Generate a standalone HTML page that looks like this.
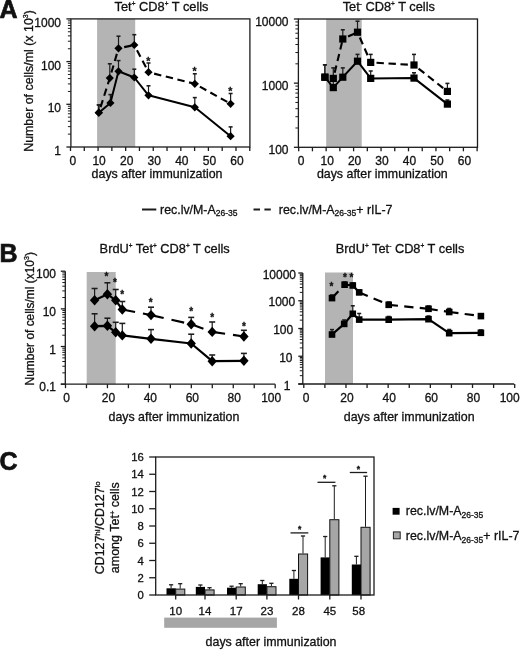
<!DOCTYPE html>
<html><head><meta charset="utf-8"><style>
html,body{margin:0;padding:0;background:#fff;}
svg{display:block;filter:blur(0.35px);}
text{font-family:"Liberation Sans", sans-serif;fill:#111;stroke:#111;stroke-width:0.3px;}
</style></head><body>
<svg width="520" height="650" viewBox="0 0 520 650">
<rect x="0" y="0" width="520" height="650" fill="#fff"/>
<text x="-0.60" y="18.00" font-size="25" text-anchor="start" font-weight="bold" style="stroke-width:0.7px">A</text>
<text x="-0.60" y="262.00" font-size="25" text-anchor="start" font-weight="bold" style="stroke-width:0.7px">B</text>
<text x="-0.60" y="470.00" font-size="25" text-anchor="start" font-weight="bold" style="stroke-width:0.7px">C</text>
<rect x="97.10" y="18.90" width="38.10" height="128.10" fill="#b4b4b4"/>
<rect x="70.9" y="18.9" width="179.0" height="128.1" fill="none" stroke="#1c1c1c" stroke-width="1.3"/>
<line x1="66.40" y1="147.00" x2="70.90" y2="147.00" stroke="#1c1c1c" stroke-width="1.3" stroke-linecap="butt"/>
<line x1="67.90" y1="134.15" x2="70.90" y2="134.15" stroke="#1c1c1c" stroke-width="1.0" stroke-linecap="butt"/>
<line x1="67.90" y1="126.63" x2="70.90" y2="126.63" stroke="#1c1c1c" stroke-width="1.0" stroke-linecap="butt"/>
<line x1="67.90" y1="121.29" x2="70.90" y2="121.29" stroke="#1c1c1c" stroke-width="1.0" stroke-linecap="butt"/>
<line x1="67.90" y1="117.15" x2="70.90" y2="117.15" stroke="#1c1c1c" stroke-width="1.0" stroke-linecap="butt"/>
<line x1="67.90" y1="113.77" x2="70.90" y2="113.77" stroke="#1c1c1c" stroke-width="1.0" stroke-linecap="butt"/>
<line x1="67.90" y1="110.91" x2="70.90" y2="110.91" stroke="#1c1c1c" stroke-width="1.0" stroke-linecap="butt"/>
<line x1="67.90" y1="108.44" x2="70.90" y2="108.44" stroke="#1c1c1c" stroke-width="1.0" stroke-linecap="butt"/>
<line x1="67.90" y1="106.25" x2="70.90" y2="106.25" stroke="#1c1c1c" stroke-width="1.0" stroke-linecap="butt"/>
<line x1="66.40" y1="104.30" x2="70.90" y2="104.30" stroke="#1c1c1c" stroke-width="1.3" stroke-linecap="butt"/>
<line x1="67.90" y1="91.45" x2="70.90" y2="91.45" stroke="#1c1c1c" stroke-width="1.0" stroke-linecap="butt"/>
<line x1="67.90" y1="83.93" x2="70.90" y2="83.93" stroke="#1c1c1c" stroke-width="1.0" stroke-linecap="butt"/>
<line x1="67.90" y1="78.59" x2="70.90" y2="78.59" stroke="#1c1c1c" stroke-width="1.0" stroke-linecap="butt"/>
<line x1="67.90" y1="74.45" x2="70.90" y2="74.45" stroke="#1c1c1c" stroke-width="1.0" stroke-linecap="butt"/>
<line x1="67.90" y1="71.07" x2="70.90" y2="71.07" stroke="#1c1c1c" stroke-width="1.0" stroke-linecap="butt"/>
<line x1="67.90" y1="68.21" x2="70.90" y2="68.21" stroke="#1c1c1c" stroke-width="1.0" stroke-linecap="butt"/>
<line x1="67.90" y1="65.74" x2="70.90" y2="65.74" stroke="#1c1c1c" stroke-width="1.0" stroke-linecap="butt"/>
<line x1="67.90" y1="63.55" x2="70.90" y2="63.55" stroke="#1c1c1c" stroke-width="1.0" stroke-linecap="butt"/>
<line x1="66.40" y1="61.60" x2="70.90" y2="61.60" stroke="#1c1c1c" stroke-width="1.3" stroke-linecap="butt"/>
<line x1="67.90" y1="48.75" x2="70.90" y2="48.75" stroke="#1c1c1c" stroke-width="1.0" stroke-linecap="butt"/>
<line x1="67.90" y1="41.23" x2="70.90" y2="41.23" stroke="#1c1c1c" stroke-width="1.0" stroke-linecap="butt"/>
<line x1="67.90" y1="35.89" x2="70.90" y2="35.89" stroke="#1c1c1c" stroke-width="1.0" stroke-linecap="butt"/>
<line x1="67.90" y1="31.75" x2="70.90" y2="31.75" stroke="#1c1c1c" stroke-width="1.0" stroke-linecap="butt"/>
<line x1="67.90" y1="28.37" x2="70.90" y2="28.37" stroke="#1c1c1c" stroke-width="1.0" stroke-linecap="butt"/>
<line x1="67.90" y1="25.51" x2="70.90" y2="25.51" stroke="#1c1c1c" stroke-width="1.0" stroke-linecap="butt"/>
<line x1="67.90" y1="23.04" x2="70.90" y2="23.04" stroke="#1c1c1c" stroke-width="1.0" stroke-linecap="butt"/>
<line x1="67.90" y1="20.85" x2="70.90" y2="20.85" stroke="#1c1c1c" stroke-width="1.0" stroke-linecap="butt"/>
<line x1="66.40" y1="18.90" x2="70.90" y2="18.90" stroke="#1c1c1c" stroke-width="1.3" stroke-linecap="butt"/>
<text x="61.00" y="155.00" font-size="12" text-anchor="end" font-weight="normal">1</text>
<text x="61.00" y="112.30" font-size="12" text-anchor="end" font-weight="normal">10</text>
<text x="61.00" y="69.60" font-size="12" text-anchor="end" font-weight="normal">100</text>
<text x="61.00" y="26.90" font-size="12" text-anchor="end" font-weight="normal">1000</text>
<line x1="70.50" y1="147.00" x2="70.50" y2="151.00" stroke="#1c1c1c" stroke-width="1.3" stroke-linecap="butt"/>
<line x1="84.29" y1="147.00" x2="84.29" y2="151.00" stroke="#1c1c1c" stroke-width="1.3" stroke-linecap="butt"/>
<line x1="98.08" y1="147.00" x2="98.08" y2="151.00" stroke="#1c1c1c" stroke-width="1.3" stroke-linecap="butt"/>
<line x1="111.87" y1="147.00" x2="111.87" y2="151.00" stroke="#1c1c1c" stroke-width="1.3" stroke-linecap="butt"/>
<line x1="125.66" y1="147.00" x2="125.66" y2="151.00" stroke="#1c1c1c" stroke-width="1.3" stroke-linecap="butt"/>
<line x1="139.45" y1="147.00" x2="139.45" y2="151.00" stroke="#1c1c1c" stroke-width="1.3" stroke-linecap="butt"/>
<line x1="153.24" y1="147.00" x2="153.24" y2="151.00" stroke="#1c1c1c" stroke-width="1.3" stroke-linecap="butt"/>
<line x1="167.03" y1="147.00" x2="167.03" y2="151.00" stroke="#1c1c1c" stroke-width="1.3" stroke-linecap="butt"/>
<line x1="180.82" y1="147.00" x2="180.82" y2="151.00" stroke="#1c1c1c" stroke-width="1.3" stroke-linecap="butt"/>
<line x1="194.61" y1="147.00" x2="194.61" y2="151.00" stroke="#1c1c1c" stroke-width="1.3" stroke-linecap="butt"/>
<line x1="208.40" y1="147.00" x2="208.40" y2="151.00" stroke="#1c1c1c" stroke-width="1.3" stroke-linecap="butt"/>
<line x1="222.19" y1="147.00" x2="222.19" y2="151.00" stroke="#1c1c1c" stroke-width="1.3" stroke-linecap="butt"/>
<line x1="235.98" y1="147.00" x2="235.98" y2="151.00" stroke="#1c1c1c" stroke-width="1.3" stroke-linecap="butt"/>
<line x1="249.77" y1="147.00" x2="249.77" y2="151.00" stroke="#1c1c1c" stroke-width="1.3" stroke-linecap="butt"/>
<text x="72.80" y="164.50" font-size="12" text-anchor="middle" font-weight="normal">0</text>
<text x="99.08" y="164.50" font-size="12" text-anchor="middle" font-weight="normal">10</text>
<text x="126.66" y="164.50" font-size="12" text-anchor="middle" font-weight="normal">20</text>
<text x="154.24" y="164.50" font-size="12" text-anchor="middle" font-weight="normal">30</text>
<text x="181.82" y="164.50" font-size="12" text-anchor="middle" font-weight="normal">40</text>
<text x="209.40" y="164.50" font-size="12" text-anchor="middle" font-weight="normal">50</text>
<text x="236.98" y="164.50" font-size="12" text-anchor="middle" font-weight="normal">60</text>
<text x="91.60" y="178.10" font-size="12.4" text-anchor="start" font-weight="normal">days after immunization</text>
<text x="114.60" y="10.70" font-size="12.8" text-anchor="start" font-weight="normal">Tet<tspan font-size="6.5" baseline-shift="5">+</tspan> CD8<tspan font-size="6.5" baseline-shift="5">+</tspan> T cells</text>
<text x="0" y="0" font-size="12.4" text-anchor="middle" transform="translate(32.90,81.00) rotate(-90)">Number of cells/ml (x 10<tspan font-size="7" baseline-shift="5.3">3</tspan>)</text>
<line x1="98.80" y1="112.70" x2="98.80" y2="104.90" stroke="#1c1c1c" stroke-width="1.2" stroke-linecap="butt"/>
<line x1="96.80" y1="104.90" x2="100.80" y2="104.90" stroke="#1c1c1c" stroke-width="1.56" stroke-linecap="butt"/>
<line x1="109.80" y1="78.10" x2="109.80" y2="63.80" stroke="#1c1c1c" stroke-width="1.2" stroke-linecap="butt"/>
<line x1="107.80" y1="63.80" x2="111.80" y2="63.80" stroke="#1c1c1c" stroke-width="1.56" stroke-linecap="butt"/>
<line x1="118.50" y1="48.30" x2="118.50" y2="36.20" stroke="#1c1c1c" stroke-width="1.2" stroke-linecap="butt"/>
<line x1="116.50" y1="36.20" x2="120.50" y2="36.20" stroke="#1c1c1c" stroke-width="1.56" stroke-linecap="butt"/>
<line x1="134.30" y1="45.00" x2="134.30" y2="34.70" stroke="#1c1c1c" stroke-width="1.2" stroke-linecap="butt"/>
<line x1="132.30" y1="34.70" x2="136.30" y2="34.70" stroke="#1c1c1c" stroke-width="1.56" stroke-linecap="butt"/>
<line x1="148.50" y1="72.20" x2="148.50" y2="63.00" stroke="#1c1c1c" stroke-width="1.2" stroke-linecap="butt"/>
<line x1="146.50" y1="63.00" x2="150.50" y2="63.00" stroke="#1c1c1c" stroke-width="1.56" stroke-linecap="butt"/>
<line x1="194.80" y1="83.80" x2="194.80" y2="73.80" stroke="#1c1c1c" stroke-width="1.2" stroke-linecap="butt"/>
<line x1="192.80" y1="73.80" x2="196.80" y2="73.80" stroke="#1c1c1c" stroke-width="1.56" stroke-linecap="butt"/>
<line x1="230.60" y1="103.80" x2="230.60" y2="93.50" stroke="#1c1c1c" stroke-width="1.2" stroke-linecap="butt"/>
<line x1="228.60" y1="93.50" x2="232.60" y2="93.50" stroke="#1c1c1c" stroke-width="1.56" stroke-linecap="butt"/>
<line x1="98.80" y1="112.70" x2="98.80" y2="104.90" stroke="#1c1c1c" stroke-width="1.2" stroke-linecap="butt"/>
<line x1="96.80" y1="104.90" x2="100.80" y2="104.90" stroke="#1c1c1c" stroke-width="1.56" stroke-linecap="butt"/>
<line x1="110.40" y1="102.90" x2="110.40" y2="94.60" stroke="#1c1c1c" stroke-width="1.2" stroke-linecap="butt"/>
<line x1="108.40" y1="94.60" x2="112.40" y2="94.60" stroke="#1c1c1c" stroke-width="1.56" stroke-linecap="butt"/>
<line x1="118.50" y1="71.30" x2="118.50" y2="60.60" stroke="#1c1c1c" stroke-width="1.2" stroke-linecap="butt"/>
<line x1="116.50" y1="60.60" x2="120.50" y2="60.60" stroke="#1c1c1c" stroke-width="1.56" stroke-linecap="butt"/>
<line x1="134.30" y1="77.50" x2="134.30" y2="69.20" stroke="#1c1c1c" stroke-width="1.2" stroke-linecap="butt"/>
<line x1="132.30" y1="69.20" x2="136.30" y2="69.20" stroke="#1c1c1c" stroke-width="1.56" stroke-linecap="butt"/>
<line x1="148.50" y1="95.30" x2="148.50" y2="85.80" stroke="#1c1c1c" stroke-width="1.2" stroke-linecap="butt"/>
<line x1="146.50" y1="85.80" x2="150.50" y2="85.80" stroke="#1c1c1c" stroke-width="1.56" stroke-linecap="butt"/>
<line x1="194.80" y1="107.30" x2="194.80" y2="97.60" stroke="#1c1c1c" stroke-width="1.2" stroke-linecap="butt"/>
<line x1="192.80" y1="97.60" x2="196.80" y2="97.60" stroke="#1c1c1c" stroke-width="1.56" stroke-linecap="butt"/>
<line x1="230.60" y1="136.20" x2="230.60" y2="126.90" stroke="#1c1c1c" stroke-width="1.2" stroke-linecap="butt"/>
<line x1="228.60" y1="126.90" x2="232.60" y2="126.90" stroke="#1c1c1c" stroke-width="1.56" stroke-linecap="butt"/>
<line x1="98.80" y1="112.70" x2="109.80" y2="78.10" stroke="#000" stroke-width="2.1" stroke-dasharray="7.4,4.6" stroke-dashoffset="6.20"/>
<line x1="109.80" y1="78.10" x2="118.50" y2="48.30" stroke="#000" stroke-width="2.1" stroke-dasharray="7.4,4.6" stroke-dashoffset="6.20"/>
<line x1="118.50" y1="48.30" x2="134.30" y2="45.00" stroke="#000" stroke-width="2.1" stroke-dasharray="7.4,4.6" stroke-dashoffset="6.20"/>
<line x1="134.30" y1="45.00" x2="148.50" y2="72.20" stroke="#000" stroke-width="2.1" stroke-dasharray="7.4,4.6" stroke-dashoffset="6.20"/>
<line x1="148.50" y1="72.20" x2="194.80" y2="83.80" stroke="#000" stroke-width="2.1" stroke-dasharray="7.4,4.6" stroke-dashoffset="6.20"/>
<line x1="194.80" y1="83.80" x2="230.60" y2="103.80" stroke="#000" stroke-width="2.1" stroke-dasharray="7.4,4.6" stroke-dashoffset="6.20"/>
<polyline points="98.80,112.70 110.40,102.90 118.50,71.30 134.30,77.50 148.50,95.30 194.80,107.30 230.60,136.20" fill="none" stroke="#000" stroke-width="2" stroke-linejoin="round"/>
<path d="M94.70 112.70L98.80 108.60L102.90 112.70L98.80 116.80Z" fill="#000"/>
<path d="M105.70 78.10L109.80 74.00L113.90 78.10L109.80 82.20Z" fill="#000"/>
<path d="M114.40 48.30L118.50 44.20L122.60 48.30L118.50 52.40Z" fill="#000"/>
<path d="M130.20 45.00L134.30 40.90L138.40 45.00L134.30 49.10Z" fill="#000"/>
<path d="M144.40 72.20L148.50 68.10L152.60 72.20L148.50 76.30Z" fill="#000"/>
<path d="M190.70 83.80L194.80 79.70L198.90 83.80L194.80 87.90Z" fill="#000"/>
<path d="M226.50 103.80L230.60 99.70L234.70 103.80L230.60 107.90Z" fill="#000"/>
<path d="M94.70 112.70L98.80 108.60L102.90 112.70L98.80 116.80Z" fill="#000"/>
<path d="M106.30 102.90L110.40 98.80L114.50 102.90L110.40 107.00Z" fill="#000"/>
<path d="M114.40 71.30L118.50 67.20L122.60 71.30L118.50 75.40Z" fill="#000"/>
<path d="M130.20 77.50L134.30 73.40L138.40 77.50L134.30 81.60Z" fill="#000"/>
<path d="M144.40 95.30L148.50 91.20L152.60 95.30L148.50 99.40Z" fill="#000"/>
<path d="M190.70 107.30L194.80 103.20L198.90 107.30L194.80 111.40Z" fill="#000"/>
<path d="M226.50 136.20L230.60 132.10L234.70 136.20L230.60 140.30Z" fill="#000"/>
<text x="148.20" y="64.66" font-size="10.5" text-anchor="middle" font-weight="bold">*</text>
<text x="194.60" y="75.06" font-size="10.5" text-anchor="middle" font-weight="bold">*</text>
<text x="230.40" y="95.36" font-size="10.5" text-anchor="middle" font-weight="bold">*</text>
<rect x="326.20" y="19.00" width="35.50" height="128.30" fill="#b4b4b4"/>
<rect x="298.4" y="19.0" width="179.10000000000002" height="128.3" fill="none" stroke="#1c1c1c" stroke-width="1.3"/>
<line x1="293.90" y1="147.30" x2="298.40" y2="147.30" stroke="#1c1c1c" stroke-width="1.3" stroke-linecap="butt"/>
<line x1="295.40" y1="127.99" x2="298.40" y2="127.99" stroke="#1c1c1c" stroke-width="1.0" stroke-linecap="butt"/>
<line x1="295.40" y1="116.69" x2="298.40" y2="116.69" stroke="#1c1c1c" stroke-width="1.0" stroke-linecap="butt"/>
<line x1="295.40" y1="108.68" x2="298.40" y2="108.68" stroke="#1c1c1c" stroke-width="1.0" stroke-linecap="butt"/>
<line x1="295.40" y1="102.46" x2="298.40" y2="102.46" stroke="#1c1c1c" stroke-width="1.0" stroke-linecap="butt"/>
<line x1="295.40" y1="97.38" x2="298.40" y2="97.38" stroke="#1c1c1c" stroke-width="1.0" stroke-linecap="butt"/>
<line x1="295.40" y1="93.09" x2="298.40" y2="93.09" stroke="#1c1c1c" stroke-width="1.0" stroke-linecap="butt"/>
<line x1="295.40" y1="89.37" x2="298.40" y2="89.37" stroke="#1c1c1c" stroke-width="1.0" stroke-linecap="butt"/>
<line x1="295.40" y1="86.09" x2="298.40" y2="86.09" stroke="#1c1c1c" stroke-width="1.0" stroke-linecap="butt"/>
<line x1="293.90" y1="83.15" x2="298.40" y2="83.15" stroke="#1c1c1c" stroke-width="1.3" stroke-linecap="butt"/>
<line x1="295.40" y1="63.84" x2="298.40" y2="63.84" stroke="#1c1c1c" stroke-width="1.0" stroke-linecap="butt"/>
<line x1="295.40" y1="52.54" x2="298.40" y2="52.54" stroke="#1c1c1c" stroke-width="1.0" stroke-linecap="butt"/>
<line x1="295.40" y1="44.53" x2="298.40" y2="44.53" stroke="#1c1c1c" stroke-width="1.0" stroke-linecap="butt"/>
<line x1="295.40" y1="38.31" x2="298.40" y2="38.31" stroke="#1c1c1c" stroke-width="1.0" stroke-linecap="butt"/>
<line x1="295.40" y1="33.23" x2="298.40" y2="33.23" stroke="#1c1c1c" stroke-width="1.0" stroke-linecap="butt"/>
<line x1="295.40" y1="28.94" x2="298.40" y2="28.94" stroke="#1c1c1c" stroke-width="1.0" stroke-linecap="butt"/>
<line x1="295.40" y1="25.22" x2="298.40" y2="25.22" stroke="#1c1c1c" stroke-width="1.0" stroke-linecap="butt"/>
<line x1="295.40" y1="21.94" x2="298.40" y2="21.94" stroke="#1c1c1c" stroke-width="1.0" stroke-linecap="butt"/>
<line x1="293.90" y1="19.00" x2="298.40" y2="19.00" stroke="#1c1c1c" stroke-width="1.3" stroke-linecap="butt"/>
<text x="288.50" y="153.80" font-size="12" text-anchor="end" font-weight="normal">100</text>
<text x="288.50" y="89.65" font-size="12" text-anchor="end" font-weight="normal">1000</text>
<text x="288.50" y="25.50" font-size="12" text-anchor="end" font-weight="normal">10000</text>
<line x1="298.70" y1="147.30" x2="298.70" y2="151.30" stroke="#1c1c1c" stroke-width="1.3" stroke-linecap="butt"/>
<line x1="312.43" y1="147.30" x2="312.43" y2="151.30" stroke="#1c1c1c" stroke-width="1.3" stroke-linecap="butt"/>
<line x1="326.15" y1="147.30" x2="326.15" y2="151.30" stroke="#1c1c1c" stroke-width="1.3" stroke-linecap="butt"/>
<line x1="339.88" y1="147.30" x2="339.88" y2="151.30" stroke="#1c1c1c" stroke-width="1.3" stroke-linecap="butt"/>
<line x1="353.60" y1="147.30" x2="353.60" y2="151.30" stroke="#1c1c1c" stroke-width="1.3" stroke-linecap="butt"/>
<line x1="367.32" y1="147.30" x2="367.32" y2="151.30" stroke="#1c1c1c" stroke-width="1.3" stroke-linecap="butt"/>
<line x1="381.05" y1="147.30" x2="381.05" y2="151.30" stroke="#1c1c1c" stroke-width="1.3" stroke-linecap="butt"/>
<line x1="394.77" y1="147.30" x2="394.77" y2="151.30" stroke="#1c1c1c" stroke-width="1.3" stroke-linecap="butt"/>
<line x1="408.50" y1="147.30" x2="408.50" y2="151.30" stroke="#1c1c1c" stroke-width="1.3" stroke-linecap="butt"/>
<line x1="422.23" y1="147.30" x2="422.23" y2="151.30" stroke="#1c1c1c" stroke-width="1.3" stroke-linecap="butt"/>
<line x1="435.95" y1="147.30" x2="435.95" y2="151.30" stroke="#1c1c1c" stroke-width="1.3" stroke-linecap="butt"/>
<line x1="449.67" y1="147.30" x2="449.67" y2="151.30" stroke="#1c1c1c" stroke-width="1.3" stroke-linecap="butt"/>
<line x1="463.40" y1="147.30" x2="463.40" y2="151.30" stroke="#1c1c1c" stroke-width="1.3" stroke-linecap="butt"/>
<line x1="477.12" y1="147.30" x2="477.12" y2="151.30" stroke="#1c1c1c" stroke-width="1.3" stroke-linecap="butt"/>
<text x="301.00" y="164.50" font-size="12" text-anchor="middle" font-weight="normal">0</text>
<text x="327.15" y="164.50" font-size="12" text-anchor="middle" font-weight="normal">10</text>
<text x="354.60" y="164.50" font-size="12" text-anchor="middle" font-weight="normal">20</text>
<text x="382.05" y="164.50" font-size="12" text-anchor="middle" font-weight="normal">30</text>
<text x="409.50" y="164.50" font-size="12" text-anchor="middle" font-weight="normal">40</text>
<text x="436.95" y="164.50" font-size="12" text-anchor="middle" font-weight="normal">50</text>
<text x="464.40" y="164.50" font-size="12" text-anchor="middle" font-weight="normal">60</text>
<text x="316.90" y="178.10" font-size="12.4" text-anchor="start" font-weight="normal">days after immunization</text>
<text x="342.70" y="10.70" font-size="12.8" text-anchor="start" font-weight="normal">Tet<tspan font-size="6.5" baseline-shift="5">-</tspan> CD8<tspan font-size="6.5" baseline-shift="5">+</tspan> T cells</text>
<line x1="324.90" y1="77.20" x2="324.90" y2="64.80" stroke="#1c1c1c" stroke-width="1.2" stroke-linecap="butt"/>
<line x1="322.90" y1="64.80" x2="326.90" y2="64.80" stroke="#1c1c1c" stroke-width="1.56" stroke-linecap="butt"/>
<line x1="333.30" y1="78.40" x2="333.30" y2="67.90" stroke="#1c1c1c" stroke-width="1.2" stroke-linecap="butt"/>
<line x1="331.30" y1="67.90" x2="335.30" y2="67.90" stroke="#1c1c1c" stroke-width="1.56" stroke-linecap="butt"/>
<line x1="342.80" y1="39.00" x2="342.80" y2="29.80" stroke="#1c1c1c" stroke-width="1.2" stroke-linecap="butt"/>
<line x1="340.80" y1="29.80" x2="344.80" y2="29.80" stroke="#1c1c1c" stroke-width="1.56" stroke-linecap="butt"/>
<line x1="357.50" y1="32.20" x2="357.50" y2="21.20" stroke="#1c1c1c" stroke-width="1.2" stroke-linecap="butt"/>
<line x1="355.50" y1="21.20" x2="359.50" y2="21.20" stroke="#1c1c1c" stroke-width="1.56" stroke-linecap="butt"/>
<line x1="370.70" y1="62.40" x2="370.70" y2="54.40" stroke="#1c1c1c" stroke-width="1.2" stroke-linecap="butt"/>
<line x1="368.70" y1="54.40" x2="372.70" y2="54.40" stroke="#1c1c1c" stroke-width="1.56" stroke-linecap="butt"/>
<line x1="414.00" y1="65.00" x2="414.00" y2="54.40" stroke="#1c1c1c" stroke-width="1.2" stroke-linecap="butt"/>
<line x1="412.00" y1="54.40" x2="416.00" y2="54.40" stroke="#1c1c1c" stroke-width="1.56" stroke-linecap="butt"/>
<line x1="447.40" y1="91.40" x2="447.40" y2="83.40" stroke="#1c1c1c" stroke-width="1.2" stroke-linecap="butt"/>
<line x1="445.40" y1="83.40" x2="449.40" y2="83.40" stroke="#1c1c1c" stroke-width="1.56" stroke-linecap="butt"/>
<line x1="324.90" y1="77.20" x2="324.90" y2="64.80" stroke="#1c1c1c" stroke-width="1.2" stroke-linecap="butt"/>
<line x1="322.90" y1="64.80" x2="326.90" y2="64.80" stroke="#1c1c1c" stroke-width="1.56" stroke-linecap="butt"/>
<line x1="333.30" y1="87.60" x2="333.30" y2="80.00" stroke="#1c1c1c" stroke-width="1.2" stroke-linecap="butt"/>
<line x1="331.30" y1="80.00" x2="335.30" y2="80.00" stroke="#1c1c1c" stroke-width="1.56" stroke-linecap="butt"/>
<line x1="342.80" y1="77.20" x2="342.80" y2="67.90" stroke="#1c1c1c" stroke-width="1.2" stroke-linecap="butt"/>
<line x1="340.80" y1="67.90" x2="344.80" y2="67.90" stroke="#1c1c1c" stroke-width="1.56" stroke-linecap="butt"/>
<line x1="357.50" y1="61.20" x2="357.50" y2="54.40" stroke="#1c1c1c" stroke-width="1.2" stroke-linecap="butt"/>
<line x1="355.50" y1="54.40" x2="359.50" y2="54.40" stroke="#1c1c1c" stroke-width="1.56" stroke-linecap="butt"/>
<line x1="370.70" y1="78.40" x2="370.70" y2="71.00" stroke="#1c1c1c" stroke-width="1.2" stroke-linecap="butt"/>
<line x1="368.70" y1="71.00" x2="372.70" y2="71.00" stroke="#1c1c1c" stroke-width="1.56" stroke-linecap="butt"/>
<line x1="414.00" y1="78.10" x2="414.00" y2="72.80" stroke="#1c1c1c" stroke-width="1.2" stroke-linecap="butt"/>
<line x1="412.00" y1="72.80" x2="416.00" y2="72.80" stroke="#1c1c1c" stroke-width="1.56" stroke-linecap="butt"/>
<line x1="447.40" y1="104.10" x2="447.40" y2="100.00" stroke="#1c1c1c" stroke-width="1.2" stroke-linecap="butt"/>
<line x1="445.40" y1="100.00" x2="449.40" y2="100.00" stroke="#1c1c1c" stroke-width="1.56" stroke-linecap="butt"/>
<line x1="324.90" y1="77.20" x2="333.30" y2="78.40" stroke="#000" stroke-width="2.1" stroke-dasharray="7.4,4.6" stroke-dashoffset="6.20"/>
<line x1="333.30" y1="78.40" x2="342.80" y2="39.00" stroke="#000" stroke-width="2.1" stroke-dasharray="7.4,4.6" stroke-dashoffset="6.20"/>
<line x1="342.80" y1="39.00" x2="357.50" y2="32.20" stroke="#000" stroke-width="2.1" stroke-dasharray="7.4,4.6" stroke-dashoffset="6.20"/>
<line x1="357.50" y1="32.20" x2="370.70" y2="62.40" stroke="#000" stroke-width="2.1" stroke-dasharray="7.4,4.6" stroke-dashoffset="6.20"/>
<line x1="370.70" y1="62.40" x2="414.00" y2="65.00" stroke="#000" stroke-width="2.1" stroke-dasharray="7.4,4.6" stroke-dashoffset="6.20"/>
<line x1="414.00" y1="65.00" x2="447.40" y2="91.40" stroke="#000" stroke-width="2.1" stroke-dasharray="7.4,4.6" stroke-dashoffset="6.20"/>
<polyline points="324.90,77.20 333.30,87.60 342.80,77.20 357.50,61.20 370.70,78.40 414.00,78.10 447.40,104.10" fill="none" stroke="#000" stroke-width="2" stroke-linejoin="round"/>
<rect x="321.30" y="73.60" width="7.20" height="7.20" fill="#000"/>
<rect x="329.70" y="74.80" width="7.20" height="7.20" fill="#000"/>
<rect x="339.20" y="35.40" width="7.20" height="7.20" fill="#000"/>
<rect x="353.90" y="28.60" width="7.20" height="7.20" fill="#000"/>
<rect x="367.10" y="58.80" width="7.20" height="7.20" fill="#000"/>
<rect x="410.40" y="61.40" width="7.20" height="7.20" fill="#000"/>
<rect x="443.80" y="87.80" width="7.20" height="7.20" fill="#000"/>
<rect x="321.30" y="73.60" width="7.20" height="7.20" fill="#000"/>
<rect x="329.70" y="84.00" width="7.20" height="7.20" fill="#000"/>
<rect x="339.20" y="73.60" width="7.20" height="7.20" fill="#000"/>
<rect x="353.90" y="57.60" width="7.20" height="7.20" fill="#000"/>
<rect x="367.10" y="74.80" width="7.20" height="7.20" fill="#000"/>
<rect x="410.40" y="74.50" width="7.20" height="7.20" fill="#000"/>
<rect x="443.80" y="100.50" width="7.20" height="7.20" fill="#000"/>
<line x1="142.00" y1="209.50" x2="156.30" y2="209.50" stroke="#1c1c1c" stroke-width="2" stroke-linecap="butt"/>
<text x="160.00" y="214.10" font-size="12.4" text-anchor="start" font-weight="normal">rec.lv/M-A<tspan font-size="8.5" baseline-shift="-2.4">26-35</tspan></text>
<line x1="253.50" y1="209.50" x2="260.00" y2="209.50" stroke="#1c1c1c" stroke-width="2" stroke-linecap="butt"/>
<line x1="264.40" y1="209.50" x2="270.80" y2="209.50" stroke="#1c1c1c" stroke-width="2" stroke-linecap="butt"/>
<text x="278.80" y="214.10" font-size="12.4" text-anchor="start" font-weight="normal">rec.lv/M-A<tspan font-size="8.5" baseline-shift="-2.4">26-35</tspan>+ rIL-7</text>
<rect x="86.70" y="272.00" width="29.00" height="112.20" fill="#b4b4b4"/>
<line x1="65.30" y1="271.20" x2="65.30" y2="384.20" stroke="#1c1c1c" stroke-width="1.3" stroke-linecap="butt"/>
<line x1="60.80" y1="384.20" x2="275.20" y2="384.20" stroke="#1c1c1c" stroke-width="1.3" stroke-linecap="butt"/>
<line x1="60.80" y1="384.20" x2="65.30" y2="384.20" stroke="#1c1c1c" stroke-width="1.3" stroke-linecap="butt"/>
<line x1="62.30" y1="372.86" x2="65.30" y2="372.86" stroke="#1c1c1c" stroke-width="1.0" stroke-linecap="butt"/>
<line x1="62.30" y1="366.23" x2="65.30" y2="366.23" stroke="#1c1c1c" stroke-width="1.0" stroke-linecap="butt"/>
<line x1="62.30" y1="361.52" x2="65.30" y2="361.52" stroke="#1c1c1c" stroke-width="1.0" stroke-linecap="butt"/>
<line x1="62.30" y1="357.87" x2="65.30" y2="357.87" stroke="#1c1c1c" stroke-width="1.0" stroke-linecap="butt"/>
<line x1="62.30" y1="354.89" x2="65.30" y2="354.89" stroke="#1c1c1c" stroke-width="1.0" stroke-linecap="butt"/>
<line x1="62.30" y1="352.37" x2="65.30" y2="352.37" stroke="#1c1c1c" stroke-width="1.0" stroke-linecap="butt"/>
<line x1="62.30" y1="350.18" x2="65.30" y2="350.18" stroke="#1c1c1c" stroke-width="1.0" stroke-linecap="butt"/>
<line x1="62.30" y1="348.26" x2="65.30" y2="348.26" stroke="#1c1c1c" stroke-width="1.0" stroke-linecap="butt"/>
<line x1="60.80" y1="346.53" x2="65.30" y2="346.53" stroke="#1c1c1c" stroke-width="1.3" stroke-linecap="butt"/>
<line x1="62.30" y1="335.19" x2="65.30" y2="335.19" stroke="#1c1c1c" stroke-width="1.0" stroke-linecap="butt"/>
<line x1="62.30" y1="328.56" x2="65.30" y2="328.56" stroke="#1c1c1c" stroke-width="1.0" stroke-linecap="butt"/>
<line x1="62.30" y1="323.86" x2="65.30" y2="323.86" stroke="#1c1c1c" stroke-width="1.0" stroke-linecap="butt"/>
<line x1="62.30" y1="320.21" x2="65.30" y2="320.21" stroke="#1c1c1c" stroke-width="1.0" stroke-linecap="butt"/>
<line x1="62.30" y1="317.22" x2="65.30" y2="317.22" stroke="#1c1c1c" stroke-width="1.0" stroke-linecap="butt"/>
<line x1="62.30" y1="314.70" x2="65.30" y2="314.70" stroke="#1c1c1c" stroke-width="1.0" stroke-linecap="butt"/>
<line x1="62.30" y1="312.52" x2="65.30" y2="312.52" stroke="#1c1c1c" stroke-width="1.0" stroke-linecap="butt"/>
<line x1="62.30" y1="310.59" x2="65.30" y2="310.59" stroke="#1c1c1c" stroke-width="1.0" stroke-linecap="butt"/>
<line x1="60.80" y1="308.87" x2="65.30" y2="308.87" stroke="#1c1c1c" stroke-width="1.3" stroke-linecap="butt"/>
<line x1="62.30" y1="297.53" x2="65.30" y2="297.53" stroke="#1c1c1c" stroke-width="1.0" stroke-linecap="butt"/>
<line x1="62.30" y1="290.90" x2="65.30" y2="290.90" stroke="#1c1c1c" stroke-width="1.0" stroke-linecap="butt"/>
<line x1="62.30" y1="286.19" x2="65.30" y2="286.19" stroke="#1c1c1c" stroke-width="1.0" stroke-linecap="butt"/>
<line x1="62.30" y1="282.54" x2="65.30" y2="282.54" stroke="#1c1c1c" stroke-width="1.0" stroke-linecap="butt"/>
<line x1="62.30" y1="279.56" x2="65.30" y2="279.56" stroke="#1c1c1c" stroke-width="1.0" stroke-linecap="butt"/>
<line x1="62.30" y1="277.03" x2="65.30" y2="277.03" stroke="#1c1c1c" stroke-width="1.0" stroke-linecap="butt"/>
<line x1="62.30" y1="274.85" x2="65.30" y2="274.85" stroke="#1c1c1c" stroke-width="1.0" stroke-linecap="butt"/>
<line x1="62.30" y1="272.92" x2="65.30" y2="272.92" stroke="#1c1c1c" stroke-width="1.0" stroke-linecap="butt"/>
<line x1="60.80" y1="271.20" x2="65.30" y2="271.20" stroke="#1c1c1c" stroke-width="1.3" stroke-linecap="butt"/>
<text x="56.00" y="391.20" font-size="12" text-anchor="end" font-weight="normal">0.1</text>
<text x="56.00" y="353.53" font-size="12" text-anchor="end" font-weight="normal">1</text>
<text x="56.00" y="315.87" font-size="12" text-anchor="end" font-weight="normal">10</text>
<text x="56.00" y="278.20" font-size="12" text-anchor="end" font-weight="normal">100</text>
<line x1="65.50" y1="384.20" x2="65.50" y2="388.20" stroke="#1c1c1c" stroke-width="1.3" stroke-linecap="butt"/>
<line x1="86.47" y1="384.20" x2="86.47" y2="388.20" stroke="#1c1c1c" stroke-width="1.3" stroke-linecap="butt"/>
<line x1="107.44" y1="384.20" x2="107.44" y2="388.20" stroke="#1c1c1c" stroke-width="1.3" stroke-linecap="butt"/>
<line x1="128.41" y1="384.20" x2="128.41" y2="388.20" stroke="#1c1c1c" stroke-width="1.3" stroke-linecap="butt"/>
<line x1="149.38" y1="384.20" x2="149.38" y2="388.20" stroke="#1c1c1c" stroke-width="1.3" stroke-linecap="butt"/>
<line x1="170.35" y1="384.20" x2="170.35" y2="388.20" stroke="#1c1c1c" stroke-width="1.3" stroke-linecap="butt"/>
<line x1="191.32" y1="384.20" x2="191.32" y2="388.20" stroke="#1c1c1c" stroke-width="1.3" stroke-linecap="butt"/>
<line x1="212.29" y1="384.20" x2="212.29" y2="388.20" stroke="#1c1c1c" stroke-width="1.3" stroke-linecap="butt"/>
<line x1="233.26" y1="384.20" x2="233.26" y2="388.20" stroke="#1c1c1c" stroke-width="1.3" stroke-linecap="butt"/>
<line x1="254.23" y1="384.20" x2="254.23" y2="388.20" stroke="#1c1c1c" stroke-width="1.3" stroke-linecap="butt"/>
<line x1="275.20" y1="384.20" x2="275.20" y2="388.20" stroke="#1c1c1c" stroke-width="1.3" stroke-linecap="butt"/>
<text x="66.50" y="401.50" font-size="12" text-anchor="middle" font-weight="normal">0</text>
<text x="108.44" y="401.50" font-size="12" text-anchor="middle" font-weight="normal">20</text>
<text x="150.38" y="401.50" font-size="12" text-anchor="middle" font-weight="normal">40</text>
<text x="192.32" y="401.50" font-size="12" text-anchor="middle" font-weight="normal">60</text>
<text x="234.26" y="401.50" font-size="12" text-anchor="middle" font-weight="normal">80</text>
<text x="271.20" y="401.50" font-size="12" text-anchor="middle" font-weight="normal">100</text>
<text x="108.50" y="421.00" font-size="12.4" text-anchor="start" font-weight="normal">days after immunization</text>
<text x="99.60" y="253.40" font-size="12.8" text-anchor="start" font-weight="normal">BrdU<tspan font-size="6.5" baseline-shift="5">+</tspan> Tet<tspan font-size="6.5" baseline-shift="5">+</tspan> CD8<tspan font-size="6.5" baseline-shift="5">+</tspan> T cells</text>
<text x="0" y="0" font-size="11.95" text-anchor="middle" transform="translate(33.70,318.75) rotate(-90)">Number of cells/ml (x10<tspan font-size="7" baseline-shift="5.3">3</tspan>)</text>
<line x1="94.60" y1="300.30" x2="94.60" y2="288.50" stroke="#1c1c1c" stroke-width="1.2" stroke-linecap="butt"/>
<line x1="91.60" y1="288.50" x2="97.60" y2="288.50" stroke="#1c1c1c" stroke-width="1.56" stroke-linecap="butt"/>
<line x1="107.40" y1="294.20" x2="107.40" y2="282.80" stroke="#1c1c1c" stroke-width="1.2" stroke-linecap="butt"/>
<line x1="104.40" y1="282.80" x2="110.40" y2="282.80" stroke="#1c1c1c" stroke-width="1.56" stroke-linecap="butt"/>
<line x1="115.70" y1="300.30" x2="115.70" y2="289.50" stroke="#1c1c1c" stroke-width="1.2" stroke-linecap="butt"/>
<line x1="112.70" y1="289.50" x2="118.70" y2="289.50" stroke="#1c1c1c" stroke-width="1.56" stroke-linecap="butt"/>
<line x1="122.30" y1="309.50" x2="122.30" y2="301.50" stroke="#1c1c1c" stroke-width="1.2" stroke-linecap="butt"/>
<line x1="119.30" y1="301.50" x2="125.30" y2="301.50" stroke="#1c1c1c" stroke-width="1.56" stroke-linecap="butt"/>
<line x1="151.00" y1="315.10" x2="151.00" y2="307.20" stroke="#1c1c1c" stroke-width="1.2" stroke-linecap="butt"/>
<line x1="148.00" y1="307.20" x2="154.00" y2="307.20" stroke="#1c1c1c" stroke-width="1.56" stroke-linecap="butt"/>
<line x1="191.20" y1="324.30" x2="191.20" y2="317.40" stroke="#1c1c1c" stroke-width="1.2" stroke-linecap="butt"/>
<line x1="188.20" y1="317.40" x2="194.20" y2="317.40" stroke="#1c1c1c" stroke-width="1.56" stroke-linecap="butt"/>
<line x1="212.20" y1="331.90" x2="212.20" y2="322.00" stroke="#1c1c1c" stroke-width="1.2" stroke-linecap="butt"/>
<line x1="209.20" y1="322.00" x2="215.20" y2="322.00" stroke="#1c1c1c" stroke-width="1.56" stroke-linecap="butt"/>
<line x1="243.90" y1="336.50" x2="243.90" y2="330.30" stroke="#1c1c1c" stroke-width="1.2" stroke-linecap="butt"/>
<line x1="240.90" y1="330.30" x2="246.90" y2="330.30" stroke="#1c1c1c" stroke-width="1.56" stroke-linecap="butt"/>
<line x1="94.60" y1="326.20" x2="94.60" y2="313.80" stroke="#1c1c1c" stroke-width="1.2" stroke-linecap="butt"/>
<line x1="91.60" y1="313.80" x2="97.60" y2="313.80" stroke="#1c1c1c" stroke-width="1.56" stroke-linecap="butt"/>
<line x1="107.40" y1="325.80" x2="107.40" y2="318.20" stroke="#1c1c1c" stroke-width="1.2" stroke-linecap="butt"/>
<line x1="104.40" y1="318.20" x2="110.40" y2="318.20" stroke="#1c1c1c" stroke-width="1.56" stroke-linecap="butt"/>
<line x1="115.70" y1="332.30" x2="115.70" y2="322.30" stroke="#1c1c1c" stroke-width="1.2" stroke-linecap="butt"/>
<line x1="112.70" y1="322.30" x2="118.70" y2="322.30" stroke="#1c1c1c" stroke-width="1.56" stroke-linecap="butt"/>
<line x1="122.30" y1="335.40" x2="122.30" y2="323.40" stroke="#1c1c1c" stroke-width="1.2" stroke-linecap="butt"/>
<line x1="119.30" y1="323.40" x2="125.30" y2="323.40" stroke="#1c1c1c" stroke-width="1.56" stroke-linecap="butt"/>
<line x1="151.00" y1="338.80" x2="151.00" y2="329.60" stroke="#1c1c1c" stroke-width="1.2" stroke-linecap="butt"/>
<line x1="148.00" y1="329.60" x2="154.00" y2="329.60" stroke="#1c1c1c" stroke-width="1.56" stroke-linecap="butt"/>
<line x1="191.20" y1="343.50" x2="191.20" y2="334.20" stroke="#1c1c1c" stroke-width="1.2" stroke-linecap="butt"/>
<line x1="188.20" y1="334.20" x2="194.20" y2="334.20" stroke="#1c1c1c" stroke-width="1.56" stroke-linecap="butt"/>
<line x1="212.20" y1="361.20" x2="212.20" y2="355.00" stroke="#1c1c1c" stroke-width="1.2" stroke-linecap="butt"/>
<line x1="209.20" y1="355.00" x2="215.20" y2="355.00" stroke="#1c1c1c" stroke-width="1.56" stroke-linecap="butt"/>
<line x1="243.90" y1="360.80" x2="243.90" y2="353.40" stroke="#1c1c1c" stroke-width="1.2" stroke-linecap="butt"/>
<line x1="240.90" y1="353.40" x2="246.90" y2="353.40" stroke="#1c1c1c" stroke-width="1.56" stroke-linecap="butt"/>
<line x1="94.60" y1="300.30" x2="107.40" y2="294.20" stroke="#000" stroke-width="2.2" stroke-dasharray="13,8" stroke-dashoffset="0.00"/>
<line x1="107.40" y1="294.20" x2="115.70" y2="300.30" stroke="#000" stroke-width="2.2" stroke-dasharray="13,8" stroke-dashoffset="0.00"/>
<line x1="115.70" y1="300.30" x2="122.30" y2="309.50" stroke="#000" stroke-width="2.2" stroke-dasharray="13,8" stroke-dashoffset="0.00"/>
<line x1="122.30" y1="309.50" x2="151.00" y2="315.10" stroke="#000" stroke-width="2.2" stroke-dasharray="13,8" stroke-dashoffset="0.00"/>
<line x1="151.00" y1="315.10" x2="191.20" y2="324.30" stroke="#000" stroke-width="2.2" stroke-dasharray="13,8" stroke-dashoffset="0.00"/>
<line x1="191.20" y1="324.30" x2="212.20" y2="331.90" stroke="#000" stroke-width="2.2" stroke-dasharray="13,8" stroke-dashoffset="0.00"/>
<line x1="212.20" y1="331.90" x2="243.90" y2="336.50" stroke="#000" stroke-width="2.2" stroke-dasharray="13,8" stroke-dashoffset="0.00"/>
<polyline points="94.60,326.20 107.40,325.80 115.70,332.30 122.30,335.40 151.00,338.80 191.20,343.50 212.20,361.20 243.90,360.80" fill="none" stroke="#000" stroke-width="2.2" stroke-linejoin="round"/>
<path d="M89.90 300.30L94.60 295.10L99.30 300.30L94.60 305.50Z" fill="#000"/>
<path d="M102.70 294.20L107.40 289.00L112.10 294.20L107.40 299.40Z" fill="#000"/>
<path d="M111.00 300.30L115.70 295.10L120.40 300.30L115.70 305.50Z" fill="#000"/>
<path d="M117.60 309.50L122.30 304.30L127.00 309.50L122.30 314.70Z" fill="#000"/>
<path d="M146.30 315.10L151.00 309.90L155.70 315.10L151.00 320.30Z" fill="#000"/>
<path d="M186.50 324.30L191.20 319.10L195.90 324.30L191.20 329.50Z" fill="#000"/>
<path d="M207.50 331.90L212.20 326.70L216.90 331.90L212.20 337.10Z" fill="#000"/>
<path d="M239.20 336.50L243.90 331.30L248.60 336.50L243.90 341.70Z" fill="#000"/>
<path d="M89.90 326.20L94.60 321.00L99.30 326.20L94.60 331.40Z" fill="#000"/>
<path d="M102.70 325.80L107.40 320.60L112.10 325.80L107.40 331.00Z" fill="#000"/>
<path d="M111.00 332.30L115.70 327.10L120.40 332.30L115.70 337.50Z" fill="#000"/>
<path d="M117.60 335.40L122.30 330.20L127.00 335.40L122.30 340.60Z" fill="#000"/>
<path d="M146.30 338.80L151.00 333.60L155.70 338.80L151.00 344.00Z" fill="#000"/>
<path d="M186.50 343.50L191.20 338.30L195.90 343.50L191.20 348.70Z" fill="#000"/>
<path d="M207.50 361.20L212.20 356.00L216.90 361.20L212.20 366.40Z" fill="#000"/>
<path d="M239.20 360.80L243.90 355.60L248.60 360.80L243.90 366.00Z" fill="#000"/>
<text x="106.50" y="280.20" font-size="10" text-anchor="middle" font-weight="bold">*</text>
<text x="115.00" y="286.00" font-size="10" text-anchor="middle" font-weight="bold">*</text>
<text x="122.30" y="297.50" font-size="10" text-anchor="middle" font-weight="bold">*</text>
<text x="150.60" y="305.50" font-size="10" text-anchor="middle" font-weight="bold">*</text>
<text x="191.20" y="315.20" font-size="10" text-anchor="middle" font-weight="bold">*</text>
<text x="212.20" y="321.00" font-size="10" text-anchor="middle" font-weight="bold">*</text>
<text x="243.90" y="329.50" font-size="10" text-anchor="middle" font-weight="bold">*</text>
<rect x="325.00" y="272.50" width="28.00" height="111.50" fill="#b4b4b4"/>
<line x1="302.80" y1="273.00" x2="302.80" y2="384.00" stroke="#1c1c1c" stroke-width="1.3" stroke-linecap="butt"/>
<line x1="298.30" y1="384.00" x2="514.20" y2="384.00" stroke="#1c1c1c" stroke-width="1.3" stroke-linecap="butt"/>
<line x1="298.30" y1="384.00" x2="302.80" y2="384.00" stroke="#1c1c1c" stroke-width="1.3" stroke-linecap="butt"/>
<line x1="299.80" y1="375.65" x2="302.80" y2="375.65" stroke="#1c1c1c" stroke-width="1.0" stroke-linecap="butt"/>
<line x1="299.80" y1="370.76" x2="302.80" y2="370.76" stroke="#1c1c1c" stroke-width="1.0" stroke-linecap="butt"/>
<line x1="299.80" y1="367.29" x2="302.80" y2="367.29" stroke="#1c1c1c" stroke-width="1.0" stroke-linecap="butt"/>
<line x1="299.80" y1="364.60" x2="302.80" y2="364.60" stroke="#1c1c1c" stroke-width="1.0" stroke-linecap="butt"/>
<line x1="299.80" y1="362.41" x2="302.80" y2="362.41" stroke="#1c1c1c" stroke-width="1.0" stroke-linecap="butt"/>
<line x1="299.80" y1="360.55" x2="302.80" y2="360.55" stroke="#1c1c1c" stroke-width="1.0" stroke-linecap="butt"/>
<line x1="299.80" y1="358.94" x2="302.80" y2="358.94" stroke="#1c1c1c" stroke-width="1.0" stroke-linecap="butt"/>
<line x1="299.80" y1="357.52" x2="302.80" y2="357.52" stroke="#1c1c1c" stroke-width="1.0" stroke-linecap="butt"/>
<line x1="298.30" y1="356.25" x2="302.80" y2="356.25" stroke="#1c1c1c" stroke-width="1.3" stroke-linecap="butt"/>
<line x1="299.80" y1="347.90" x2="302.80" y2="347.90" stroke="#1c1c1c" stroke-width="1.0" stroke-linecap="butt"/>
<line x1="299.80" y1="343.01" x2="302.80" y2="343.01" stroke="#1c1c1c" stroke-width="1.0" stroke-linecap="butt"/>
<line x1="299.80" y1="339.54" x2="302.80" y2="339.54" stroke="#1c1c1c" stroke-width="1.0" stroke-linecap="butt"/>
<line x1="299.80" y1="336.85" x2="302.80" y2="336.85" stroke="#1c1c1c" stroke-width="1.0" stroke-linecap="butt"/>
<line x1="299.80" y1="334.66" x2="302.80" y2="334.66" stroke="#1c1c1c" stroke-width="1.0" stroke-linecap="butt"/>
<line x1="299.80" y1="332.80" x2="302.80" y2="332.80" stroke="#1c1c1c" stroke-width="1.0" stroke-linecap="butt"/>
<line x1="299.80" y1="331.19" x2="302.80" y2="331.19" stroke="#1c1c1c" stroke-width="1.0" stroke-linecap="butt"/>
<line x1="299.80" y1="329.77" x2="302.80" y2="329.77" stroke="#1c1c1c" stroke-width="1.0" stroke-linecap="butt"/>
<line x1="298.30" y1="328.50" x2="302.80" y2="328.50" stroke="#1c1c1c" stroke-width="1.3" stroke-linecap="butt"/>
<line x1="299.80" y1="320.15" x2="302.80" y2="320.15" stroke="#1c1c1c" stroke-width="1.0" stroke-linecap="butt"/>
<line x1="299.80" y1="315.26" x2="302.80" y2="315.26" stroke="#1c1c1c" stroke-width="1.0" stroke-linecap="butt"/>
<line x1="299.80" y1="311.79" x2="302.80" y2="311.79" stroke="#1c1c1c" stroke-width="1.0" stroke-linecap="butt"/>
<line x1="299.80" y1="309.10" x2="302.80" y2="309.10" stroke="#1c1c1c" stroke-width="1.0" stroke-linecap="butt"/>
<line x1="299.80" y1="306.91" x2="302.80" y2="306.91" stroke="#1c1c1c" stroke-width="1.0" stroke-linecap="butt"/>
<line x1="299.80" y1="305.05" x2="302.80" y2="305.05" stroke="#1c1c1c" stroke-width="1.0" stroke-linecap="butt"/>
<line x1="299.80" y1="303.44" x2="302.80" y2="303.44" stroke="#1c1c1c" stroke-width="1.0" stroke-linecap="butt"/>
<line x1="299.80" y1="302.02" x2="302.80" y2="302.02" stroke="#1c1c1c" stroke-width="1.0" stroke-linecap="butt"/>
<line x1="298.30" y1="300.75" x2="302.80" y2="300.75" stroke="#1c1c1c" stroke-width="1.3" stroke-linecap="butt"/>
<line x1="299.80" y1="292.40" x2="302.80" y2="292.40" stroke="#1c1c1c" stroke-width="1.0" stroke-linecap="butt"/>
<line x1="299.80" y1="287.51" x2="302.80" y2="287.51" stroke="#1c1c1c" stroke-width="1.0" stroke-linecap="butt"/>
<line x1="299.80" y1="284.04" x2="302.80" y2="284.04" stroke="#1c1c1c" stroke-width="1.0" stroke-linecap="butt"/>
<line x1="299.80" y1="281.35" x2="302.80" y2="281.35" stroke="#1c1c1c" stroke-width="1.0" stroke-linecap="butt"/>
<line x1="299.80" y1="279.16" x2="302.80" y2="279.16" stroke="#1c1c1c" stroke-width="1.0" stroke-linecap="butt"/>
<line x1="299.80" y1="277.30" x2="302.80" y2="277.30" stroke="#1c1c1c" stroke-width="1.0" stroke-linecap="butt"/>
<line x1="299.80" y1="275.69" x2="302.80" y2="275.69" stroke="#1c1c1c" stroke-width="1.0" stroke-linecap="butt"/>
<line x1="299.80" y1="274.27" x2="302.80" y2="274.27" stroke="#1c1c1c" stroke-width="1.0" stroke-linecap="butt"/>
<line x1="298.30" y1="273.00" x2="302.80" y2="273.00" stroke="#1c1c1c" stroke-width="1.3" stroke-linecap="butt"/>
<text x="290.50" y="389.50" font-size="12" text-anchor="end" font-weight="normal">1</text>
<text x="292.50" y="361.75" font-size="12" text-anchor="end" font-weight="normal">10</text>
<text x="293.20" y="334.00" font-size="12" text-anchor="end" font-weight="normal">100</text>
<text x="295.20" y="306.25" font-size="12" text-anchor="end" font-weight="normal">1000</text>
<text x="296.00" y="278.50" font-size="12" text-anchor="end" font-weight="normal">10000</text>
<line x1="303.80" y1="384.00" x2="303.80" y2="388.00" stroke="#1c1c1c" stroke-width="1.3" stroke-linecap="butt"/>
<line x1="324.89" y1="384.00" x2="324.89" y2="388.00" stroke="#1c1c1c" stroke-width="1.3" stroke-linecap="butt"/>
<line x1="345.98" y1="384.00" x2="345.98" y2="388.00" stroke="#1c1c1c" stroke-width="1.3" stroke-linecap="butt"/>
<line x1="367.07" y1="384.00" x2="367.07" y2="388.00" stroke="#1c1c1c" stroke-width="1.3" stroke-linecap="butt"/>
<line x1="388.16" y1="384.00" x2="388.16" y2="388.00" stroke="#1c1c1c" stroke-width="1.3" stroke-linecap="butt"/>
<line x1="409.25" y1="384.00" x2="409.25" y2="388.00" stroke="#1c1c1c" stroke-width="1.3" stroke-linecap="butt"/>
<line x1="430.34" y1="384.00" x2="430.34" y2="388.00" stroke="#1c1c1c" stroke-width="1.3" stroke-linecap="butt"/>
<line x1="451.43" y1="384.00" x2="451.43" y2="388.00" stroke="#1c1c1c" stroke-width="1.3" stroke-linecap="butt"/>
<line x1="472.52" y1="384.00" x2="472.52" y2="388.00" stroke="#1c1c1c" stroke-width="1.3" stroke-linecap="butt"/>
<line x1="493.61" y1="384.00" x2="493.61" y2="388.00" stroke="#1c1c1c" stroke-width="1.3" stroke-linecap="butt"/>
<line x1="514.70" y1="384.00" x2="514.70" y2="388.00" stroke="#1c1c1c" stroke-width="1.3" stroke-linecap="butt"/>
<text x="306.10" y="401.50" font-size="12" text-anchor="middle" font-weight="normal">0</text>
<text x="346.98" y="401.50" font-size="12" text-anchor="middle" font-weight="normal">20</text>
<text x="389.16" y="401.50" font-size="12" text-anchor="middle" font-weight="normal">40</text>
<text x="431.34" y="401.50" font-size="12" text-anchor="middle" font-weight="normal">60</text>
<text x="473.52" y="401.50" font-size="12" text-anchor="middle" font-weight="normal">80</text>
<text x="509.70" y="401.50" font-size="12" text-anchor="middle" font-weight="normal">100</text>
<text x="343.75" y="421.00" font-size="12.4" text-anchor="start" font-weight="normal">days after immunization</text>
<text x="335.80" y="253.40" font-size="12.8" text-anchor="start" font-weight="normal">BrdU<tspan font-size="6.5" baseline-shift="5">+</tspan> Tet<tspan font-size="6.5" baseline-shift="5">-</tspan> CD8<tspan font-size="6.5" baseline-shift="5">+</tspan> T cells</text>
<line x1="332.00" y1="298.10" x2="332.00" y2="295.00" stroke="#1c1c1c" stroke-width="1.2" stroke-linecap="butt"/>
<line x1="330.00" y1="295.00" x2="334.00" y2="295.00" stroke="#1c1c1c" stroke-width="1.56" stroke-linecap="butt"/>
<line x1="344.60" y1="284.70" x2="344.60" y2="282.00" stroke="#1c1c1c" stroke-width="1.2" stroke-linecap="butt"/>
<line x1="342.60" y1="282.00" x2="346.60" y2="282.00" stroke="#1c1c1c" stroke-width="1.56" stroke-linecap="butt"/>
<line x1="352.80" y1="285.50" x2="352.80" y2="283.00" stroke="#1c1c1c" stroke-width="1.2" stroke-linecap="butt"/>
<line x1="350.80" y1="283.00" x2="354.80" y2="283.00" stroke="#1c1c1c" stroke-width="1.56" stroke-linecap="butt"/>
<line x1="359.20" y1="292.40" x2="359.20" y2="290.00" stroke="#1c1c1c" stroke-width="1.2" stroke-linecap="butt"/>
<line x1="357.20" y1="290.00" x2="361.20" y2="290.00" stroke="#1c1c1c" stroke-width="1.56" stroke-linecap="butt"/>
<line x1="388.70" y1="304.80" x2="388.70" y2="302.00" stroke="#1c1c1c" stroke-width="1.2" stroke-linecap="butt"/>
<line x1="386.70" y1="302.00" x2="390.70" y2="302.00" stroke="#1c1c1c" stroke-width="1.56" stroke-linecap="butt"/>
<line x1="428.50" y1="308.80" x2="428.50" y2="306.00" stroke="#1c1c1c" stroke-width="1.2" stroke-linecap="butt"/>
<line x1="426.50" y1="306.00" x2="430.50" y2="306.00" stroke="#1c1c1c" stroke-width="1.56" stroke-linecap="butt"/>
<line x1="449.20" y1="312.00" x2="449.20" y2="308.50" stroke="#1c1c1c" stroke-width="1.2" stroke-linecap="butt"/>
<line x1="447.20" y1="308.50" x2="451.20" y2="308.50" stroke="#1c1c1c" stroke-width="1.56" stroke-linecap="butt"/>
<line x1="480.90" y1="316.10" x2="480.90" y2="314.00" stroke="#1c1c1c" stroke-width="1.2" stroke-linecap="butt"/>
<line x1="478.90" y1="314.00" x2="482.90" y2="314.00" stroke="#1c1c1c" stroke-width="1.56" stroke-linecap="butt"/>
<line x1="332.00" y1="334.50" x2="332.00" y2="329.60" stroke="#1c1c1c" stroke-width="1.2" stroke-linecap="butt"/>
<line x1="330.00" y1="329.60" x2="334.00" y2="329.60" stroke="#1c1c1c" stroke-width="1.56" stroke-linecap="butt"/>
<line x1="344.20" y1="323.90" x2="344.20" y2="320.00" stroke="#1c1c1c" stroke-width="1.2" stroke-linecap="butt"/>
<line x1="342.20" y1="320.00" x2="346.20" y2="320.00" stroke="#1c1c1c" stroke-width="1.56" stroke-linecap="butt"/>
<line x1="352.80" y1="313.80" x2="352.80" y2="305.80" stroke="#1c1c1c" stroke-width="1.2" stroke-linecap="butt"/>
<line x1="350.80" y1="305.80" x2="354.80" y2="305.80" stroke="#1c1c1c" stroke-width="1.56" stroke-linecap="butt"/>
<line x1="359.20" y1="319.60" x2="359.20" y2="313.50" stroke="#1c1c1c" stroke-width="1.2" stroke-linecap="butt"/>
<line x1="357.20" y1="313.50" x2="361.20" y2="313.50" stroke="#1c1c1c" stroke-width="1.56" stroke-linecap="butt"/>
<line x1="388.70" y1="319.70" x2="388.70" y2="316.50" stroke="#1c1c1c" stroke-width="1.2" stroke-linecap="butt"/>
<line x1="386.70" y1="316.50" x2="390.70" y2="316.50" stroke="#1c1c1c" stroke-width="1.56" stroke-linecap="butt"/>
<line x1="428.50" y1="319.20" x2="428.50" y2="316.00" stroke="#1c1c1c" stroke-width="1.2" stroke-linecap="butt"/>
<line x1="426.50" y1="316.00" x2="430.50" y2="316.00" stroke="#1c1c1c" stroke-width="1.56" stroke-linecap="butt"/>
<line x1="449.20" y1="333.20" x2="449.20" y2="329.50" stroke="#1c1c1c" stroke-width="1.2" stroke-linecap="butt"/>
<line x1="447.20" y1="329.50" x2="451.20" y2="329.50" stroke="#1c1c1c" stroke-width="1.56" stroke-linecap="butt"/>
<line x1="480.90" y1="332.80" x2="480.90" y2="330.00" stroke="#1c1c1c" stroke-width="1.2" stroke-linecap="butt"/>
<line x1="478.90" y1="330.00" x2="482.90" y2="330.00" stroke="#1c1c1c" stroke-width="1.56" stroke-linecap="butt"/>
<line x1="332.00" y1="298.10" x2="344.60" y2="284.70" stroke="#000" stroke-width="2.2" stroke-dasharray="9.3,6.3" stroke-dashoffset="0.00"/>
<line x1="344.60" y1="284.70" x2="352.80" y2="285.50" stroke="#000" stroke-width="2.2" stroke-dasharray="9.3,6.3" stroke-dashoffset="0.00"/>
<line x1="352.80" y1="285.50" x2="359.20" y2="292.40" stroke="#000" stroke-width="2.2" stroke-dasharray="9.3,6.3" stroke-dashoffset="0.00"/>
<line x1="359.20" y1="292.40" x2="388.70" y2="304.80" stroke="#000" stroke-width="2.2" stroke-dasharray="9.3,6.3" stroke-dashoffset="0.00"/>
<line x1="388.70" y1="304.80" x2="428.50" y2="308.80" stroke="#000" stroke-width="2.2" stroke-dasharray="9.3,6.3" stroke-dashoffset="0.00"/>
<line x1="428.50" y1="308.80" x2="449.20" y2="312.00" stroke="#000" stroke-width="2.2" stroke-dasharray="9.3,6.3" stroke-dashoffset="0.00"/>
<line x1="449.20" y1="312.00" x2="480.90" y2="316.10" stroke="#000" stroke-width="2.2" stroke-dasharray="9.3,6.3" stroke-dashoffset="0.00"/>
<polyline points="332.00,334.50 344.20,323.90 352.80,313.80 359.20,319.60 388.70,319.70 428.50,319.20 449.20,333.20 480.90,332.80" fill="none" stroke="#000" stroke-width="2.2" stroke-linejoin="round"/>
<rect x="328.70" y="294.80" width="6.60" height="6.60" fill="#000"/>
<rect x="341.30" y="281.40" width="6.60" height="6.60" fill="#000"/>
<rect x="349.50" y="282.20" width="6.60" height="6.60" fill="#000"/>
<rect x="355.90" y="289.10" width="6.60" height="6.60" fill="#000"/>
<rect x="385.40" y="301.50" width="6.60" height="6.60" fill="#000"/>
<rect x="425.20" y="305.50" width="6.60" height="6.60" fill="#000"/>
<rect x="445.90" y="308.70" width="6.60" height="6.60" fill="#000"/>
<rect x="477.60" y="312.80" width="6.60" height="6.60" fill="#000"/>
<rect x="328.70" y="331.20" width="6.60" height="6.60" fill="#000"/>
<rect x="340.90" y="320.60" width="6.60" height="6.60" fill="#000"/>
<rect x="349.50" y="310.50" width="6.60" height="6.60" fill="#000"/>
<rect x="355.90" y="316.30" width="6.60" height="6.60" fill="#000"/>
<rect x="385.40" y="316.40" width="6.60" height="6.60" fill="#000"/>
<rect x="425.20" y="315.90" width="6.60" height="6.60" fill="#000"/>
<rect x="445.90" y="329.90" width="6.60" height="6.60" fill="#000"/>
<rect x="477.60" y="329.50" width="6.60" height="6.60" fill="#000"/>
<text x="331.50" y="290.30" font-size="10" text-anchor="middle" font-weight="bold">*</text>
<text x="344.90" y="280.60" font-size="10" text-anchor="middle" font-weight="bold">*</text>
<text x="351.40" y="280.60" font-size="10" text-anchor="middle" font-weight="bold">*</text>
<line x1="149.20" y1="595.00" x2="155.70" y2="595.00" stroke="#1c1c1c" stroke-width="1.3" stroke-linecap="butt"/>
<text x="143.80" y="599.00" font-size="11.3" text-anchor="end" font-weight="normal">0</text>
<line x1="149.20" y1="577.75" x2="155.70" y2="577.75" stroke="#1c1c1c" stroke-width="1.3" stroke-linecap="butt"/>
<text x="143.80" y="581.75" font-size="11.3" text-anchor="end" font-weight="normal">2</text>
<line x1="149.20" y1="560.50" x2="155.70" y2="560.50" stroke="#1c1c1c" stroke-width="1.3" stroke-linecap="butt"/>
<text x="143.80" y="564.50" font-size="11.3" text-anchor="end" font-weight="normal">4</text>
<line x1="149.20" y1="543.25" x2="155.70" y2="543.25" stroke="#1c1c1c" stroke-width="1.3" stroke-linecap="butt"/>
<text x="143.80" y="547.25" font-size="11.3" text-anchor="end" font-weight="normal">6</text>
<line x1="149.20" y1="526.00" x2="155.70" y2="526.00" stroke="#1c1c1c" stroke-width="1.3" stroke-linecap="butt"/>
<text x="143.80" y="530.00" font-size="11.3" text-anchor="end" font-weight="normal">8</text>
<line x1="149.20" y1="508.75" x2="155.70" y2="508.75" stroke="#1c1c1c" stroke-width="1.3" stroke-linecap="butt"/>
<text x="143.80" y="512.75" font-size="11.3" text-anchor="end" font-weight="normal">10</text>
<line x1="149.20" y1="491.50" x2="155.70" y2="491.50" stroke="#1c1c1c" stroke-width="1.3" stroke-linecap="butt"/>
<text x="143.80" y="495.50" font-size="11.3" text-anchor="end" font-weight="normal">12</text>
<line x1="149.20" y1="474.25" x2="155.70" y2="474.25" stroke="#1c1c1c" stroke-width="1.3" stroke-linecap="butt"/>
<text x="143.80" y="478.25" font-size="11.3" text-anchor="end" font-weight="normal">14</text>
<line x1="149.20" y1="457.00" x2="155.70" y2="457.00" stroke="#1c1c1c" stroke-width="1.3" stroke-linecap="butt"/>
<text x="143.80" y="461.00" font-size="11.3" text-anchor="end" font-weight="normal">16</text>
<line x1="171.10" y1="588.30" x2="171.10" y2="584.80" stroke="#1c1c1c" stroke-width="1.0" stroke-linecap="butt"/>
<line x1="169.00" y1="584.80" x2="173.20" y2="584.80" stroke="#1c1c1c" stroke-width="1.3" stroke-linecap="butt"/>
<line x1="180.20" y1="588.60" x2="180.20" y2="583.70" stroke="#1c1c1c" stroke-width="1.0" stroke-linecap="butt"/>
<line x1="178.10" y1="583.70" x2="182.30" y2="583.70" stroke="#1c1c1c" stroke-width="1.3" stroke-linecap="butt"/>
<rect x="166.50" y="588.30" width="9.20" height="6.70" fill="#000"/>
<rect x="175.70" y="589.10" width="9.10" height="5.90" fill="#a6a6a6" stroke="#111" stroke-width="1"/>
<line x1="200.40" y1="586.90" x2="200.40" y2="585.00" stroke="#1c1c1c" stroke-width="1.0" stroke-linecap="butt"/>
<line x1="198.30" y1="585.00" x2="202.50" y2="585.00" stroke="#1c1c1c" stroke-width="1.3" stroke-linecap="butt"/>
<line x1="209.50" y1="589.40" x2="209.50" y2="587.70" stroke="#1c1c1c" stroke-width="1.0" stroke-linecap="butt"/>
<line x1="207.40" y1="587.70" x2="211.60" y2="587.70" stroke="#1c1c1c" stroke-width="1.3" stroke-linecap="butt"/>
<rect x="195.80" y="586.90" width="9.20" height="8.10" fill="#000"/>
<rect x="205.00" y="589.90" width="9.10" height="5.10" fill="#a6a6a6" stroke="#111" stroke-width="1"/>
<line x1="231.60" y1="587.70" x2="231.60" y2="586.20" stroke="#1c1c1c" stroke-width="1.0" stroke-linecap="butt"/>
<line x1="229.50" y1="586.20" x2="233.70" y2="586.20" stroke="#1c1c1c" stroke-width="1.3" stroke-linecap="butt"/>
<line x1="240.70" y1="586.50" x2="240.70" y2="583.70" stroke="#1c1c1c" stroke-width="1.0" stroke-linecap="butt"/>
<line x1="238.60" y1="583.70" x2="242.80" y2="583.70" stroke="#1c1c1c" stroke-width="1.3" stroke-linecap="butt"/>
<rect x="227.00" y="587.70" width="9.20" height="7.30" fill="#000"/>
<rect x="236.20" y="587.00" width="9.10" height="8.00" fill="#a6a6a6" stroke="#111" stroke-width="1"/>
<line x1="262.30" y1="584.20" x2="262.30" y2="580.50" stroke="#1c1c1c" stroke-width="1.0" stroke-linecap="butt"/>
<line x1="260.20" y1="580.50" x2="264.40" y2="580.50" stroke="#1c1c1c" stroke-width="1.3" stroke-linecap="butt"/>
<line x1="271.40" y1="586.20" x2="271.40" y2="583.30" stroke="#1c1c1c" stroke-width="1.0" stroke-linecap="butt"/>
<line x1="269.30" y1="583.30" x2="273.50" y2="583.30" stroke="#1c1c1c" stroke-width="1.3" stroke-linecap="butt"/>
<rect x="257.70" y="584.20" width="9.20" height="10.80" fill="#000"/>
<rect x="266.90" y="586.70" width="9.10" height="8.30" fill="#a6a6a6" stroke="#111" stroke-width="1"/>
<line x1="293.90" y1="578.80" x2="293.90" y2="570.50" stroke="#1c1c1c" stroke-width="1.0" stroke-linecap="butt"/>
<line x1="291.80" y1="570.50" x2="296.00" y2="570.50" stroke="#1c1c1c" stroke-width="1.3" stroke-linecap="butt"/>
<line x1="303.00" y1="553.50" x2="303.00" y2="536.00" stroke="#1c1c1c" stroke-width="1.0" stroke-linecap="butt"/>
<line x1="300.90" y1="536.00" x2="305.10" y2="536.00" stroke="#1c1c1c" stroke-width="1.3" stroke-linecap="butt"/>
<rect x="289.30" y="578.80" width="9.20" height="16.20" fill="#000"/>
<rect x="298.50" y="554.00" width="9.10" height="41.00" fill="#a6a6a6" stroke="#111" stroke-width="1"/>
<line x1="325.20" y1="557.40" x2="325.20" y2="536.50" stroke="#1c1c1c" stroke-width="1.0" stroke-linecap="butt"/>
<line x1="323.10" y1="536.50" x2="327.30" y2="536.50" stroke="#1c1c1c" stroke-width="1.3" stroke-linecap="butt"/>
<line x1="334.30" y1="519.20" x2="334.30" y2="485.80" stroke="#1c1c1c" stroke-width="1.0" stroke-linecap="butt"/>
<line x1="332.20" y1="485.80" x2="336.40" y2="485.80" stroke="#1c1c1c" stroke-width="1.3" stroke-linecap="butt"/>
<rect x="320.60" y="557.40" width="9.20" height="37.60" fill="#000"/>
<rect x="329.80" y="519.70" width="9.10" height="75.30" fill="#a6a6a6" stroke="#111" stroke-width="1"/>
<line x1="356.40" y1="564.50" x2="356.40" y2="556.30" stroke="#1c1c1c" stroke-width="1.0" stroke-linecap="butt"/>
<line x1="354.30" y1="556.30" x2="358.50" y2="556.30" stroke="#1c1c1c" stroke-width="1.3" stroke-linecap="butt"/>
<line x1="365.50" y1="526.80" x2="365.50" y2="476.20" stroke="#1c1c1c" stroke-width="1.0" stroke-linecap="butt"/>
<line x1="363.40" y1="476.20" x2="367.60" y2="476.20" stroke="#1c1c1c" stroke-width="1.3" stroke-linecap="butt"/>
<rect x="351.80" y="564.50" width="9.20" height="30.50" fill="#000"/>
<rect x="361.00" y="527.30" width="9.10" height="67.70" fill="#a6a6a6" stroke="#111" stroke-width="1"/>
<rect x="155.7" y="457.0" width="218.3" height="138.0" fill="none" stroke="#1c1c1c" stroke-width="1.3"/>
<line x1="175.70" y1="595.00" x2="175.70" y2="599.50" stroke="#1c1c1c" stroke-width="1.3" stroke-linecap="butt"/>
<text x="175.70" y="614.60" font-size="11.5" text-anchor="middle" font-weight="normal">10</text>
<line x1="205.00" y1="595.00" x2="205.00" y2="599.50" stroke="#1c1c1c" stroke-width="1.3" stroke-linecap="butt"/>
<text x="205.00" y="614.60" font-size="11.5" text-anchor="middle" font-weight="normal">14</text>
<line x1="236.20" y1="595.00" x2="236.20" y2="599.50" stroke="#1c1c1c" stroke-width="1.3" stroke-linecap="butt"/>
<text x="236.20" y="614.60" font-size="11.5" text-anchor="middle" font-weight="normal">17</text>
<line x1="266.90" y1="595.00" x2="266.90" y2="599.50" stroke="#1c1c1c" stroke-width="1.3" stroke-linecap="butt"/>
<text x="266.90" y="614.60" font-size="11.5" text-anchor="middle" font-weight="normal">23</text>
<line x1="298.50" y1="595.00" x2="298.50" y2="599.50" stroke="#1c1c1c" stroke-width="1.3" stroke-linecap="butt"/>
<text x="298.50" y="614.60" font-size="11.5" text-anchor="middle" font-weight="normal">28</text>
<line x1="329.80" y1="595.00" x2="329.80" y2="599.50" stroke="#1c1c1c" stroke-width="1.3" stroke-linecap="butt"/>
<text x="329.80" y="614.60" font-size="11.5" text-anchor="middle" font-weight="normal">45</text>
<line x1="361.00" y1="595.00" x2="361.00" y2="599.50" stroke="#1c1c1c" stroke-width="1.3" stroke-linecap="butt"/>
<text x="358.70" y="614.60" font-size="11.5" text-anchor="middle" font-weight="normal">58</text>
<rect x="164.20" y="617.60" width="112.70" height="10.20" fill="#a6a6a6"/>
<text x="205.60" y="645.80" font-size="12.4" text-anchor="start" font-weight="normal">days after immunization</text>
<line x1="290.50" y1="532.90" x2="308.30" y2="532.90" stroke="#1c1c1c" stroke-width="1.3" stroke-linecap="butt"/>
<text x="299.70" y="531.82" font-size="8.5" text-anchor="middle" font-weight="bold">*</text>
<line x1="317.50" y1="482.30" x2="335.40" y2="482.30" stroke="#1c1c1c" stroke-width="1.3" stroke-linecap="butt"/>
<text x="324.60" y="481.22" font-size="8.5" text-anchor="middle" font-weight="bold">*</text>
<line x1="349.80" y1="472.50" x2="367.10" y2="472.50" stroke="#1c1c1c" stroke-width="1.3" stroke-linecap="butt"/>
<text x="358.50" y="471.52" font-size="8.5" text-anchor="middle" font-weight="bold">*</text>
<text x="0" y="0" font-size="12.4" text-anchor="middle" transform="translate(104.20,527.70) rotate(-90)">CD127<tspan font-size="8" baseline-shift="4.2">hi</tspan>/CD127<tspan font-size="8" baseline-shift="4.2">lo</tspan></text>
<text x="0" y="0" font-size="12.5" text-anchor="middle" transform="translate(119.30,527.70) rotate(-90)">among Tet<tspan font-size="7.5" baseline-shift="4.5">+</tspan> cells</text>
<rect x="392.60" y="507.90" width="7.00" height="6.80" fill="#000"/>
<text x="405.80" y="515.00" font-size="12.4" text-anchor="start" font-weight="normal">rec.lv/M-A<tspan font-size="8.5" baseline-shift="-3">26-35</tspan></text>
<rect x="393.40" y="531.90" width="6.80" height="6.90" fill="#a6a6a6" stroke="#222" stroke-width="1"/>
<text x="405.80" y="539.50" font-size="12.4" text-anchor="start" font-weight="normal">rec.lv/M-A<tspan font-size="8.5" baseline-shift="-3">26-35</tspan>+ rIL-7</text>
</svg>
</body></html>
